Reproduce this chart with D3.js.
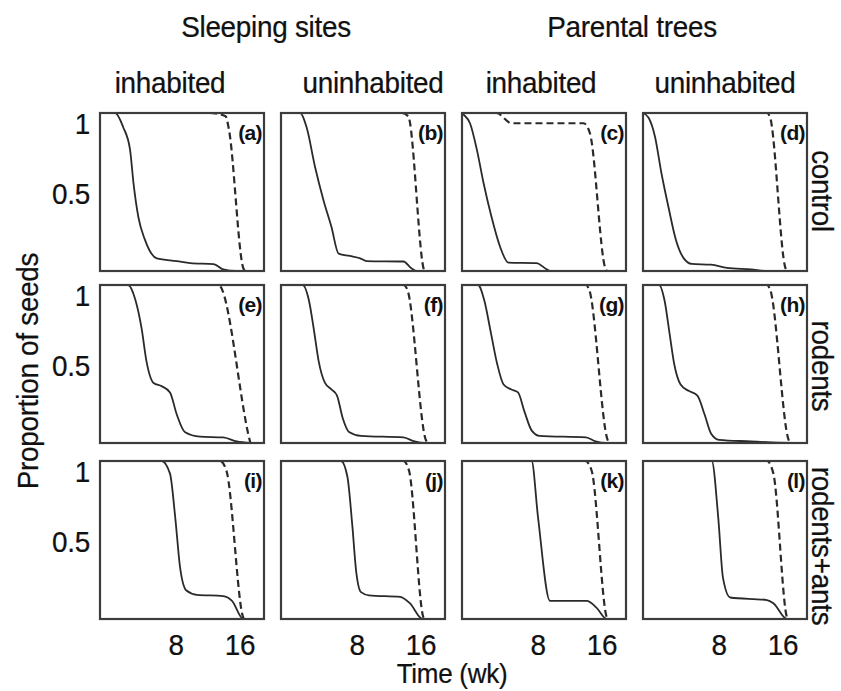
<!DOCTYPE html>
<html>
<head>
<meta charset="utf-8">
<script src="https://cdn.jsdelivr.net/npm/d3@7/dist/d3.min.js"></script>
<style>
  html, body { margin: 0; padding: 0; background: #fff; }
  svg { display: block; }
  text { font-family: "Liberation Sans", Arial, sans-serif; fill: #111; }
</style>
</head>
<body>
<svg id="chart" width="841" height="691"></svg>
<script>
// ---- Data ----
const groupLabels = ["Sleeping sites", "Parental trees"];
const colLabels = ["inhabited", "uninhabited", "inhabited", "uninhabited"];
const rowLabels = ["control", "rodents", "rodents+ants"];
const panelLabels = ["(a)","(b)","(c)","(d)","(e)","(f)","(g)","(h)","(i)","(j)","(k)","(l)"];
const xTicks = [8, 16];
const yTicks = [1, 0.5];
const xLabel = "Time (wk)";
const yLabel = "Proportion of seeds";

// [week, proportion]
const solidA = [[-1.5,1],[0.4,1],[1.4,0.91],[2.25,0.77],[2.7,0.55],[3.3,0.34],[4.1,0.2],[5.6,0.08],[8.1,0.063],[9.8,0.05],[12.7,0.044],[13.9,0.01],[15.5,0],[17.3,0]];
const dashedA = [[-1.5,1],[12.2,1],[14.2,0.98],[14.6,0.9],[16.4,0.02],[16.6,0]];
const solidB = [[-1.5,1],[0.9,1],[1.7,0.91],[2.75,0.66],[3.8,0.45],[4.8,0.28],[5.7,0.11],[7.1,0.095],[8.4,0.08],[9.2,0.063],[13.8,0.06],[14.8,0.017],[15.5,0],[17.3,0]];
const dashedB = [[-1.5,1],[13.6,1],[14.4,0.98],[16.3,0.02],[16.4,0]];
const solidC = [[-1.5,1],[-1.3,0.99],[-0.5,0.935],[0.35,0.77],[1.2,0.555],[2.2,0.34],[3.25,0.155],[4.3,0.053],[7.8,0.05],[9.1,0.01],[9.5,0],[17.5,0]];
const dashedC = [[-1.5,1],[2.8,1],[4.7,0.935],[13.7,0.935],[14.5,0.87],[16.4,0.02],[16.6,0]];
const solidD = [[-1.5,1],[-0.8,0.97],[0,0.85],[0.8,0.62],[1.7,0.4],[2.6,0.2],[3.6,0.08],[4.6,0.045],[7,0.04],[9,0.02],[12,0.01],[14,0],[17.5,0]];
const dashedD = [[-1.5,1],[14,1],[14.4,0.97],[16.3,0.02],[16.5,0]];

const solidE = [[-1.5,1],[2,1],[2.9,0.91],[3.7,0.725],[4.3,0.52],[5.2,0.38],[6.2,0.36],[7.25,0.32],[8.1,0.18],[9.1,0.07],[11,0.04],[13.9,0.035],[15.6,0.01],[17.3,0]];
const dashedE = [[-1.5,1],[13.3,1],[17.2,0.02],[17.3,0]];
const solidF = [[-1.5,1],[1.2,1],[2,0.9],[2.6,0.72],[3.2,0.52],[4,0.38],[4.8,0.34],[5.5,0.3],[6.2,0.16],[7,0.07],[8.5,0.045],[13.8,0.035],[15.2,0.01],[16.5,0],[17.3,0]];
const dashedF = [[-1.5,1],[13.8,1],[14.3,0.97],[16.6,0.02],[16.8,0]];
const solidG = [[-1.5,1],[0.5,1],[1.3,0.9],[2.1,0.7],[2.9,0.5],[3.7,0.37],[4.6,0.34],[5.5,0.32],[6.3,0.2],[7.2,0.08],[8.2,0.045],[14,0.035],[15.2,0.01],[16.5,0],[17.5,0]];
const dashedG = [[-1.5,1],[14,1],[14.4,0.97],[16.7,0.02],[16.9,0]];
const solidH = [[-1.5,1],[0.5,1],[1.2,0.9],[1.8,0.7],[2.4,0.5],[3.2,0.37],[4.2,0.33],[5.3,0.3],[6.2,0.18],[7,0.06],[8,0.02],[12,0.01],[14,0.005],[17.3,0]];
const dashedH = [[-1.5,1],[14,1],[14.4,0.97],[16.7,0.02],[16.9,0]];

const solidI = [[-1.5,1],[6.2,1],[7.25,0.92],[7.9,0.645],[8.5,0.33],[9.3,0.18],[10.6,0.153],[13.9,0.145],[15,0.115],[16.4,0],[17.3,0]];
const dashedI = [[-1.5,1],[13.5,1],[14.3,0.94],[16.4,0.01],[16.5,0]];
const solidJ = [[-1.5,1],[6,1],[6.8,0.9],[7.4,0.6],[7.9,0.3],[8.5,0.17],[9.5,0.15],[13.4,0.14],[14.6,0.1],[16.2,0],[17.3,0]];
const dashedJ = [[-1.5,1],[13.8,1],[14.5,0.94],[16.3,0.01],[16.4,0]];
const solidK = [[-1.5,1],[7.2,1],[8,0.645],[9.5,0.115],[14.1,0.115],[15.3,0.072],[16.6,0],[17.5,0]];
const dashedK = [[-1.5,1],[13.9,1],[14.7,0.94],[16.6,0.01],[16.7,0]];
const solidL = [[-1.5,1],[7.1,1],[7.9,0.645],[8.5,0.26],[9.4,0.136],[14,0.12],[14.8,0.1],[16.5,0],[17.5,0]];
const dashedL = [[-1.5,1],[14,1],[14.8,0.92],[16.5,0.01],[16.6,0]];

const solidSeries = [solidA,solidB,solidC,solidD,solidE,solidF,solidG,solidH,solidI,solidJ,solidK,solidL];
const dashedSeries = [dashedA,dashedB,dashedC,dashedD,dashedE,dashedF,dashedG,dashedH,dashedI,dashedJ,dashedK,dashedL];

// ---- Layout ----
const svg = d3.select("#chart");
const colX = [100, 281, 462, 643];
const rowY = [113, 285, 461];
const pw = 164, ph = 158;

const x = d3.scaleLinear().domain([-1.5, 19]).range([0, pw]);
const y = d3.scaleLinear().domain([0, 1]).range([ph, 0]);

const line = d3.line().x(d => x(d[0])).y(d => y(d[1])).curve(d3.curveMonotoneX);

const fs = 30;
const sx = 0.93;

function label(parent, tx, ty, str, opts = {}) {
  const rot = opts.rotate || 0;
  return parent.append("text")
    .attr("transform", `translate(${tx},${ty}) rotate(${rot}) scale(${sx},1)`)
    .attr("text-anchor", opts.anchor || "middle")
    .attr("font-size", opts.size || fs)
    .attr("letter-spacing", -0.3)
    .attr("stroke", "#111").attr("stroke-width", 0.25)
    .text(str);
}

// group headers
label(svg, 266, 37, groupLabels[0]);
label(svg, 632, 37, groupLabels[1]);

const colCenters = [170, 373, 541, 725];
colLabels.forEach((t, i) => label(svg, colCenters[i], 93, t));

const rowLabelCenters = [191, 366, 546];

for (let r = 0; r < 3; r++) {
  for (let c = 0; c < 4; c++) {
    const idx = r * 4 + c;
    const g = svg.append("g").attr("transform", `translate(${colX[c]},${rowY[r]})`);
    g.append("path").datum(solidSeries[idx]).attr("d", line)
      .attr("fill","none").attr("stroke","#2a2a2a").attr("stroke-width",1.8);
    g.append("path").datum(dashedSeries[idx]).attr("d", line)
      .attr("fill","none").attr("stroke","#2a2a2a").attr("stroke-width",2.2)
      .attr("stroke-dasharray","7,4");
    g.append("rect").attr("x",0).attr("y",0).attr("width",pw).attr("height",ph)
      .attr("fill","none").attr("stroke","#3c3c3c").attr("stroke-width",2.2);
    g.append("text").attr("x", pw - 2).attr("y", 27).attr("text-anchor","end")
      .attr("font-size", 21).attr("font-weight","bold").attr("letter-spacing",-0.6)
      .text(panelLabels[idx]);
    if (c === 0) {
      yTicks.forEach(v => {
        label(g, -10, y(v) + (v === 1 ? 21 : 12), v === 1 ? "1" : "0.5", {anchor: "end"});
      });
    }
    if (r === 2) {
      xTicks.forEach(v => label(g, x(v), ph + 36, String(v)));
    }
  }
  label(svg, 812, rowLabelCenters[r], rowLabels[r], {rotate: 90});
}

label(svg, 452, 683, xLabel, {size: 28});
label(svg, 38, 371, yLabel, {rotate: -90});
</script>
</body>
</html>
